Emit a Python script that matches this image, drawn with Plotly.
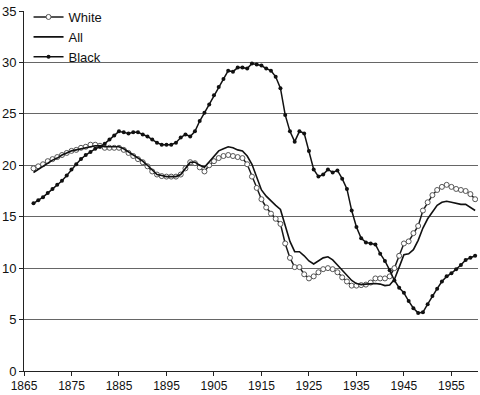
import plotly.graph_objects as go

# Years 1867-1960, one value per year
years = list(range(1867, 1961))

white = [
    19.7, 19.9, 20.1, 20.4, 20.6, 20.8, 21.0, 21.2, 21.4, 21.5,   # 1867-1876
    21.7, 21.8, 22.0, 22.0, 21.9, 21.7, 21.7, 21.7, 21.7, 21.5,   # 1877-1886
    21.2, 20.9, 20.6, 20.3, 19.9, 19.4, 19.1, 18.95, 18.9, 18.9,  # 1887-1896
    18.9, 19.1, 19.7, 20.3, 20.2, 19.8, 19.4, 20.0, 20.4, 20.7,   # 1897-1906
    20.9, 21.0, 20.9, 20.8, 20.7, 20.1, 18.9, 17.8, 16.7, 15.9,   # 1907-1916
    15.3, 14.8, 14.3, 12.4, 11.0, 10.1, 10.1, 9.4, 9.0, 9.2,      # 1917-1926
    9.6, 9.9, 10.0, 9.9, 9.6, 9.1, 8.7, 8.3, 8.3, 8.35,           # 1927-1936
    8.4, 8.6, 9.0, 9.0, 9.0, 9.2, 10.0, 11.2, 12.4, 12.6,         # 1937-1946
    13.4, 14.1, 15.6, 16.4, 17.1, 17.6, 17.9, 18.1, 17.9, 17.7,   # 1947-1956
    17.6, 17.5, 17.2, 16.7,                                       # 1957-1960
]

all_races = [
    19.3, 19.6, 19.9, 20.2, 20.5, 20.7, 21.0, 21.2, 21.4, 21.5,
    21.6, 21.7, 21.8, 21.9, 21.9, 21.8, 21.8, 21.8, 21.8, 21.6,
    21.3, 21.0, 20.7, 20.4, 20.0, 19.5, 19.1, 19.0, 18.9, 18.9,
    18.9, 19.1, 19.7, 20.3, 20.3, 20.0, 19.8, 20.3, 20.9, 21.4,
    21.6, 21.8, 21.7, 21.5, 21.4, 20.9, 20.1, 18.8, 17.6, 17.0,
    16.5, 16.1, 15.7, 14.2, 12.6, 11.6, 11.6, 11.2, 10.7, 10.4,
    10.7, 11.0, 11.1, 10.8, 10.3, 9.8, 9.3, 8.8, 8.5, 8.4,
    8.45, 8.5, 8.5, 8.45, 8.3, 8.35, 8.9, 10.1, 11.3, 11.4,
    11.8, 12.7, 13.9, 14.8, 15.5, 16.1, 16.4, 16.5, 16.4, 16.3,
    16.2, 16.2, 15.9, 15.6,
]

black = [
    16.3, 16.6, 16.9, 17.3, 17.7, 18.1, 18.5, 19.0, 19.6, 20.1,
    20.6, 21.0, 21.3, 21.6, 21.8, 22.1, 22.5, 22.9, 23.3, 23.2,
    23.1, 23.2, 23.2, 23.0, 22.8, 22.5, 22.2, 22.0, 22.0, 22.0,
    22.2, 22.7, 23.0, 22.8, 23.3, 24.3, 25.1, 25.9, 26.8, 27.6,
    28.4, 29.2, 29.1, 29.5, 29.5, 29.4, 29.9, 29.8, 29.7, 29.4,
    29.2, 28.6, 27.5, 24.9, 23.3, 22.3, 23.3, 23.1, 21.4, 19.6,
    18.9, 19.1, 19.6, 19.3, 19.5, 18.7, 17.7, 15.6, 14.0, 12.9,
    12.5, 12.4, 12.3, 11.4, 10.7, 9.8, 8.8, 8.1, 7.6, 6.8,
    6.1, 5.65, 5.7, 6.5, 7.3, 8.0, 8.7, 9.2, 9.5, 9.9,
    10.3, 10.8, 11.0, 11.2,
]

x_ticks = list(range(1865, 1960, 10))
y_ticks = list(range(0, 40, 5))

fig = go.Figure()

fig.add_trace(go.Scatter(
    x=years, y=white, name="White", mode="lines+markers",
    line=dict(color="#1a1a1a", width=1.5),
    marker=dict(symbol="circle", size=5, color="white",
                line=dict(color="#555555", width=1)),
))
fig.add_trace(go.Scatter(
    x=years, y=all_races, name="All", mode="lines",
    line=dict(color="#111111", width=1.6),
))
fig.add_trace(go.Scatter(
    x=years, y=black, name="Black", mode="lines+markers",
    line=dict(color="#111111", width=1.5),
    marker=dict(symbol="circle", size=4, color="#111111"),
))

fig.update_layout(
    width=480, height=395,
    margin=dict(l=23, r=2, t=8, b=22),
    paper_bgcolor="white", plot_bgcolor="white",
    font=dict(family="Liberation Sans, Arial, sans-serif", size=13, color="#111111"),
    showlegend=True,
    legend=dict(x=0.01, y=1.025, xanchor="left", yanchor="top",
                bgcolor="rgba(255,255,255,0)", borderwidth=0,
                font=dict(size=13), tracegroupgap=0, itemwidth=30),
)

fig.update_xaxes(
    range=[1865, 1960.6], tickvals=x_ticks, ticktext=[str(t) for t in x_ticks],
    showgrid=False, zeroline=False,
    showline=True, linecolor="#222222", linewidth=1,
    ticks="outside", ticklen=4, tickcolor="#222222",
    tickfont=dict(size=12),
)
fig.update_yaxes(
    range=[0, 35], tickvals=y_ticks,
    showgrid=True, gridcolor="#666666", gridwidth=1, zeroline=False,
    showline=True, linecolor="#222222", linewidth=1,
    ticks="outside", ticklen=4, tickcolor="#222222",
    tickfont=dict(size=13),
)

# the page's default body margin would push the figure 8px off the corner
fig.write_html("out.html", config={"displayModeBar": False},
               post_script="document.body.style.margin='0';")
